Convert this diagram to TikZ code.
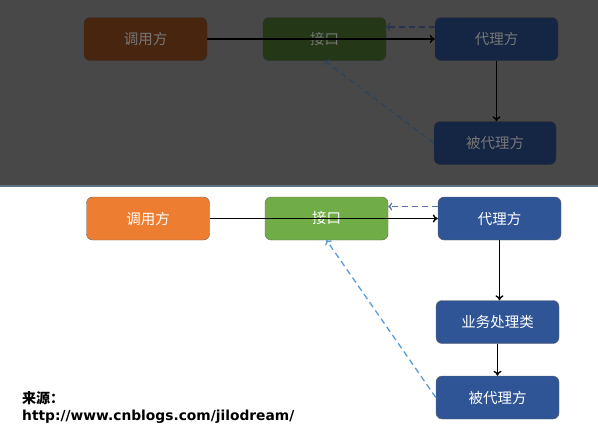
\documentclass[tikz,border=0pt]{standalone}
\usepackage{fontspec}
\newfontfamily\cjk{Noto Sans CJK SC}
\setsansfont{DejaVu Sans}
\usepackage{xcolor}
\definecolor{callorange}{HTML}{ED7D31}
\definecolor{ifgreen}{HTML}{70AD47}
\definecolor{proxyblue}{HTML}{2F5597}
\definecolor{dashblue}{HTML}{5B9BD5}
\definecolor{dashnavy}{HTML}{5A6FAF}
\definecolor{shadebg}{HTML}{484848}
\definecolor{shadeline}{HTML}{5B7080}
\usetikzlibrary{arrows.meta,positioning}

\begin{document}
\begin{tikzpicture}[
  x=1pt, y=-1pt,
  box/.style={rectangle, draw=gray!80!black, rounded corners=6pt, minimum width=123pt, minimum height=43pt, font=\cjk\fontsize{14.5}{16}\selectfont, text=white, inner sep=0pt},
  dimbox/.style={box, draw=black!30!shadebg, text=white!25!shadebg},
  arr/.style={-{To[length=5pt,width=8pt]}, line width=1.4pt, black},
  dasharr/.style={-{To[length=4pt,width=8pt]}, line width=1.3pt, dash pattern=on 6pt off 4pt, dashblue},
  src/.style={anchor=west, inner sep=0pt}
]
  \useasboundingbox (0,0) rectangle (598,434);

  % dimmed screenshot band
  \fill[shadebg] (0,0) rectangle (598,186);
  \draw[shadeline, line width=2pt] (0,186) -- (598,186);

  \node[dimbox, fill=callorange!30!black] (dyTop) at (145.5,39) {调用方};
  \node[dimbox, fill=ifgreen!32!black] (jkTop) at (324.5,39) {接口};
  \node[dimbox, fill=proxyblue!45!black] (dlTop) at (496.5,39) {代理方};
  \node[dimbox, fill=proxyblue!45!black, minimum width=122pt] (bdlTop) at (495,143) {被代理方};

  \draw[arr] (dyTop.east) -- (dlTop.west);
  \draw[dasharr, dashnavy!45!black] ([yshift=12pt]dlTop.west) -- ([yshift=12pt]jkTop.east);
  \draw[arr] (dlTop.south) -- (dlTop.south |- bdlTop.north);
  \draw[dasharr, dashblue!45!black] (bdlTop.west) -- (jkTop.south);

  % diagram
  \node[box, fill=callorange] (dy) at (148,218.5) {调用方};
  \node[box, fill=ifgreen] (jk) at (326.5,218.5) {接口};
  \node[box, fill=proxyblue] (dl) at (499.5,218.5) {代理方};
  \node[box, fill=proxyblue] (yw) at (497.5,322) {业务处理类};
  \node[box, fill=proxyblue] (bdl) at (497.5,397.5) {被代理方};

  \draw[arr] (dy.east) -- (dl.west);
  \draw[dasharr, dashnavy] ([yshift=12pt]dl.west) -- ([yshift=12pt]jk.east);
  \draw[arr] (dl.south) -- (dl.south |- yw.north);
  \draw[arr] (yw.south) -- (yw.south |- bdl.north);
  \draw[dasharr] (bdl.west) -- (jk.south);

  \node[src, font=\cjk\bfseries\fontsize{14}{16}\selectfont] (srcLabel) at (22,398) {来源：};
  \node[src, font=\sffamily\bfseries\fontsize{13.8}{16}\selectfont] (srcUrl) at (22,417) {http://www.cnblogs.com/jilodream/};
\end{tikzpicture}
\end{document}
